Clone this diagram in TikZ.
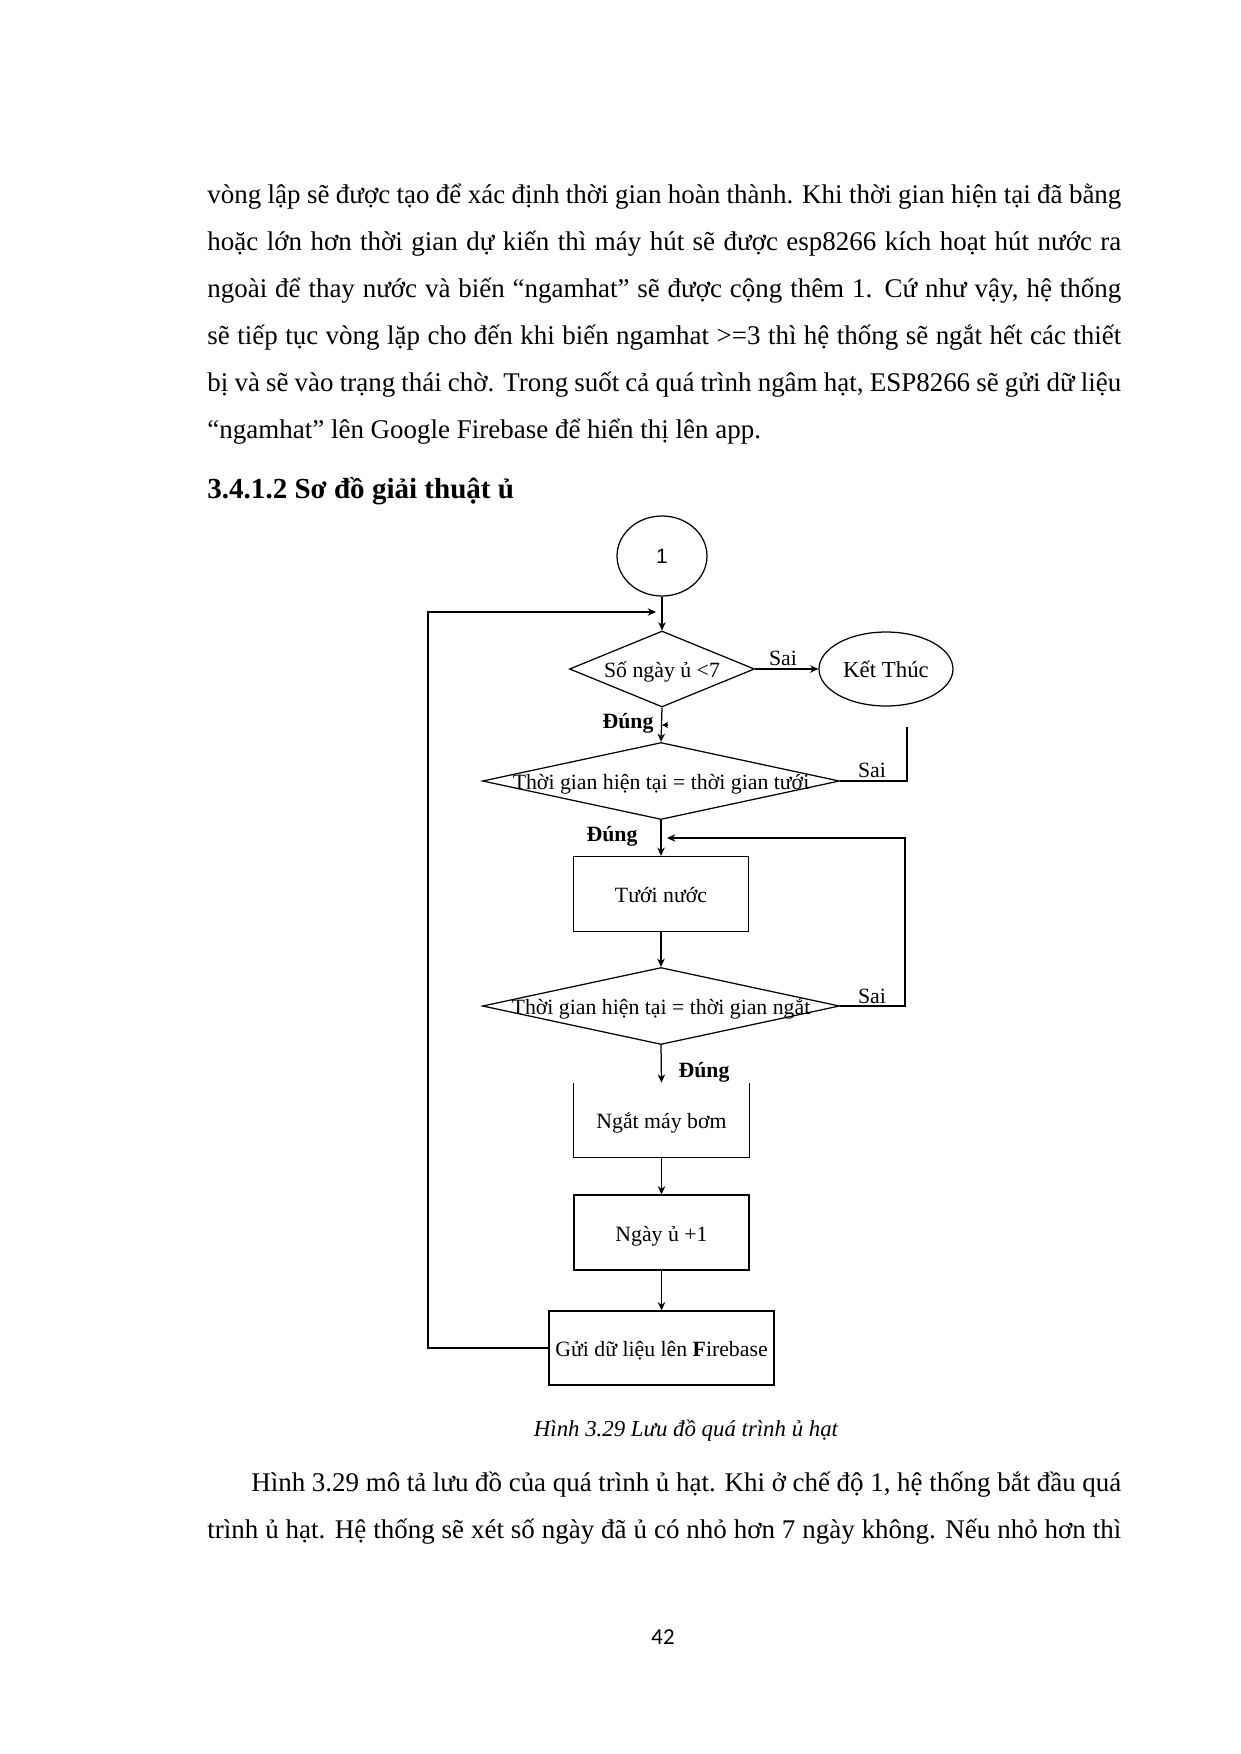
\documentclass[tikz,border=0pt]{standalone}
\usepackage{fontspec}
\setmainfont{Liberation Serif}
\newfontfamily\pagefont{Carlito}
\newfontfamily\sansone{Liberation Sans}
\usetikzlibrary{shapes.geometric,arrows.meta}
\newcommand\bodyline[2]{\makebox[#1][s]{#2}}
\tikzset{
  body/.style={anchor=base west, inner sep=0pt, font=\fontsize{13}{15}\selectfont},
  lab/.style={inner sep=0pt, font=\fontsize{10.5}{12}\selectfont},
  labb/.style={inner sep=0pt, font=\fontsize{10.5}{12}\selectfont\bfseries},
  boxtext/.style={inner sep=0pt, text height=1.8ex, text depth=0pt, font=\fontsize{10.5}{12}\selectfont},
  proc/.style={draw, rectangle, line width=0.6pt, minimum width=2.964cm, minimum height=1.270cm, boxtext},
  dec/.style={draw, diamond, line width=0.6pt, inner sep=0pt},
  arr/.style={line width=0.6pt, -{Stealth[length=4pt,width=3.6pt]}},
  ln/.style={line width=0.6pt}
}
\begin{document}
\begin{tikzpicture}[x=0.0169355cm,y=-0.0169355cm]
\useasboundingbox[fill=white] (0,0) rectangle (1240,1754);

% paragraph 1
\node[body] (p1) at (207,203) {\bodyline{15.479cm}{vòng lập sẽ được tạo để xác định thời gian hoàn thành. Khi thời gian hiện tại đã bằng}};
\node[body] (p2) at (207,250) {\bodyline{15.479cm}{hoặc lớn hơn thời gian dự kiến thì máy hút sẽ được esp8266 kích hoạt hút nước ra}};
\node[body] (p3) at (207,297) {\bodyline{15.479cm}{ngoài để thay nước và biến “ngamhat” sẽ được cộng thêm 1. Cứ như vậy, hệ thống}};
\node[body] (p4) at (207,344) {\bodyline{15.479cm}{sẽ tiếp tục vòng lặp cho đến khi biến ngamhat >=3 thì hệ thống sẽ ngắt hết các thiết}};
\node[body] (p5) at (207,391) {\bodyline{15.479cm}{bị và sẽ vào trạng thái chờ. Trong suốt cả quá trình ngâm hạt, ESP8266 sẽ gửi dữ liệu}};
\node[body] (p6) at (207,438) {“ngamhat” lên Google Firebase để hiển thị lên app.};

% heading
\node[body, font=\fontsize{14}{16}\selectfont\bfseries] (h) at (207,498) {3.4.1.2 Sơ đồ giải thuật ủ};

% flowchart
\node[draw, ellipse, line width=0.6pt, minimum width=1.524cm, minimum height=1.355cm, inner sep=0pt, font=\sansone\fontsize{10}{12}\selectfont] (c1) at (662,556) {1};
\node[dec, minimum width=3.133cm, minimum height=1.287cm] (d1) at (662,669) {};
\node[lab] (d1t) at (662,672) {Số ngày ủ <7};
\node[draw, ellipse, line width=0.6pt, minimum width=2.269cm, minimum height=1.253cm, inner sep=0pt, font=\fontsize{11}{12}\selectfont] (ket) at (886,669) {Kết Thúc};
\node[dec, minimum width=6.046cm, minimum height=1.304cm] (d2) at (661,781) {};
\node[lab] (d2t) at (661,784) {Thời gian hiện tại = thời gian tưới};
\node[proc] (tuoi) at (661,894) {Tưới nước};
\node[dec, minimum width=6.046cm, minimum height=1.304cm] (d3) at (661,1006) {};
\node[lab] (d3t) at (661,1009) {Thời gian hiện tại = thời gian ngắt};
\node[rectangle, minimum width=2.964cm, minimum height=1.253cm, boxtext] (ngat) at (661.5,1120) {Ngắt máy bơm};
\draw[ln] (ngat.north west) -- (ngat.south west) -- (ngat.south east) -- (ngat.north east);
\node[proc] (ngay) at (661.5,1232.5) {Ngày ủ +1};
\node[proc, minimum width=3.81cm, minimum height=1.253cm] (gui) at (661.5,1348) {Gửi dữ liệu lên {\bfseries F}irebase};

% labels
\node[lab] (s1) at (783,658) {Sai};
\node[lab] (s2) at (872,770) {Sai};
\node[lab] (s3) at (872,996) {Sai};
\node[labb] (u1) at (628,723) {Đúng};
\node[labb] (u2) at (612,836) {Đúng};
\node[labb] (u3) at (704,1072) {Đúng};

% coordinates
\coordinate (loopTopL) at (428,612);
\coordinate (loopTopR) at (656,612);
\coordinate (loopBotL) at (428,1348);
\coordinate (danglTop) at (907,727);
\coordinate (danglBot) at (907,781);
\coordinate (rl1) at (905,1006);
\coordinate (rl2) at (905,838);
\coordinate (rl3) at (667,838);
\coordinate (artA) at (668,725);
\coordinate (artB) at (662,725);

% connectors
\draw[arr] (c1.south) -- (d1.north);
\draw[arr] (d1.east) -- (ket.west);
\draw[arr] (d1.south) -- (d2.north);
\draw[ln, -{Stealth[length=3pt,width=3pt]}] (artA) -- (artB);
\draw[ln] (danglTop) -- (danglBot) -- (d2.east);
\draw[arr] (d2.south) -- (tuoi.north);
\draw[arr] (tuoi.south) -- (d3.north);
\draw[arr] (d3.east) -- (rl1) -- (rl2) -- (rl3);
\draw[arr] (d3.south) -- (ngat.north);
\draw[arr] (ngat.south) -- (ngay.north);
\draw[arr] (ngay.south) -- (gui.north);
\draw[arr] (gui.west) -- (loopBotL) -- (loopTopL) -- (loopTopR);

% caption
\node[anchor=base, inner sep=0pt, font=\fontsize{11}{13}\selectfont\itshape] (cap) at (686,1436) {Hình 3.29 Lưu đồ quá trình ủ hạt};

% paragraph 2
\node[body] (q1) at (251,1491) {\bodyline{14.734cm}{Hình 3.29 mô tả lưu đồ của quá trình ủ hạt. Khi ở chế độ 1, hệ thống bắt đầu quá}};
\node[body] (q2) at (207,1538) {\bodyline{15.479cm}{trình ủ hạt. Hệ thống sẽ xét số ngày đã ủ có nhỏ hơn 7 ngày không. Nếu nhỏ hơn thì}};

% page number
\node[anchor=base, inner sep=0pt, font=\pagefont\fontsize{11}{13}\selectfont] (pg) at (663,1644) {42};
\end{tikzpicture}
\end{document}
